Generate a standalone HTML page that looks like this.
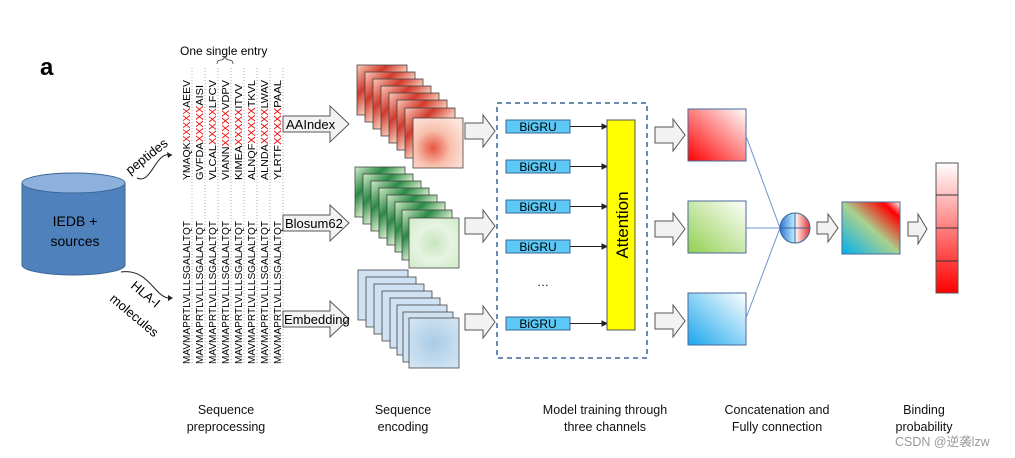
<!DOCTYPE html>
<html><head><meta charset="utf-8"><style>
html,body{margin:0;padding:0;background:#fff;}
svg{display:block;font-family:"Liberation Sans",Arial,sans-serif;}
</style></head><body>
<svg width="1015" height="458" viewBox="0 0 1015 458" xmlns="http://www.w3.org/2000/svg">
<defs>
<radialGradient id="hr" cx="0.4" cy="0.6" r="0.7"><stop offset="0" stop-color="#e8553e"/><stop offset="0.5" stop-color="#f8c0ae"/><stop offset="1" stop-color="#fde4da"/></radialGradient>
<radialGradient id="hg" cx="0.5" cy="0.5" r="0.7"><stop offset="0" stop-color="#c9e6c0"/><stop offset="0.5" stop-color="#e6f4e1"/><stop offset="1" stop-color="#d0ebc8"/></radialGradient>
<radialGradient id="hb" cx="0.5" cy="0.5" r="0.7"><stop offset="0" stop-color="#a9cbe6"/><stop offset="1" stop-color="#d6e7f4"/></radialGradient>
<linearGradient id="hrb" x1="0" y1="0" x2="1" y2="1"><stop offset="0" stop-color="#f9cbbb"/><stop offset="0.3" stop-color="#d23a2c"/><stop offset="0.55" stop-color="#f8c4b2"/><stop offset="1" stop-color="#fcdcd0"/></linearGradient>
<linearGradient id="hgb" x1="0" y1="0" x2="1" y2="1"><stop offset="0" stop-color="#d3ebcb"/><stop offset="0.3" stop-color="#2a8a45"/><stop offset="0.55" stop-color="#cfe9c6"/><stop offset="1" stop-color="#e3f2dd"/></linearGradient>
<linearGradient id="cr" x1="1" y1="0" x2="0" y2="1"><stop offset="0" stop-color="#fff"/><stop offset="1" stop-color="#f00"/></linearGradient>
<linearGradient id="cg" x1="1" y1="0" x2="0" y2="1"><stop offset="0" stop-color="#fff"/><stop offset="1" stop-color="#92d050"/></linearGradient>
<linearGradient id="cb" x1="1" y1="0" x2="0" y2="1"><stop offset="0" stop-color="#fff"/><stop offset="1" stop-color="#1aa7ec"/></linearGradient>
<linearGradient id="cm" x1="0" y1="1" x2="1" y2="0"><stop offset="0" stop-color="#00b0f0"/><stop offset="0.5" stop-color="#a9d18e"/><stop offset="0.85" stop-color="#f00"/><stop offset="1" stop-color="#fff"/></linearGradient>
<linearGradient id="bar" x1="0" y1="0" x2="0" y2="1"><stop offset="0" stop-color="#fff"/><stop offset="1" stop-color="#f00"/></linearGradient>
<linearGradient id="cl" x1="0" y1="0" x2="1" y2="0"><stop offset="0" stop-color="#2e75d6"/><stop offset="0.5" stop-color="#c6f0ff"/><stop offset="0.5" stop-color="#fff"/><stop offset="1" stop-color="#e53030"/></linearGradient>
<g id="arr"><path d="M0,-8 H18 V-16 L30,0 L18,16 V8 H0 Z" fill="#f2f2f2" stroke="#555" stroke-width="1"/></g>
</defs>

<text x="40" y="75" font-size="24" font-weight="bold">a</text>

<path d="M22,183 V265 A51.5,10 0 0 0 125,265 V183" fill="#4f81bd" stroke="#3a6595"/>
<ellipse cx="73.5" cy="183" rx="51.5" ry="10" fill="#8db0dc" stroke="#3a6595"/>
<text x="75" y="226" font-size="14" text-anchor="middle">IEDB +</text>
<text x="75" y="246" font-size="14" text-anchor="middle">sources</text>

<text transform="translate(130,175) rotate(-38)" font-size="13">peptides</text>
<path d="M137,178 C152,185 155,150 172,155" fill="none" stroke="#222"/>
<path d="M172,155 l-5,-3 l1,6z" fill="#222"/>
<path d="M121,272 C150,268 155,300 171,298" fill="none" stroke="#222"/>
<path d="M173,298 l-5,-3 l0,6z" fill="#222"/>
<text transform="translate(130,287) rotate(40)" font-size="13">HLA-I</text>
<text transform="translate(109,300) rotate(40)" font-size="13">molecules</text>

<text x="180" y="55" font-size="12">One single entry</text>
<path d="M217,64 q0,-4 4,-4 q3,0 4,-4 q1,4 4,4 q4,0 4,4" fill="none" stroke="#333" stroke-width="0.8"/>

<g font-size="10.5">
<g stroke="#999" stroke-width="0.8" stroke-dasharray="1,2">
<line x1="192" y1="68" x2="192" y2="365"/><line x1="205" y1="68" x2="205" y2="365"/><line x1="218" y1="68" x2="218" y2="365"/><line x1="231" y1="68" x2="231" y2="365"/><line x1="244" y1="68" x2="244" y2="365"/><line x1="257" y1="68" x2="257" y2="365"/><line x1="270" y1="68" x2="270" y2="365"/><line x1="283" y1="68" x2="283" y2="365"/>
</g>
<text transform="translate(190,180) rotate(-90)" textLength="100" lengthAdjust="spacingAndGlyphs">YMAQK<tspan fill="#e00">XXXXX</tspan>AEEV</text>
<text transform="translate(203,180) rotate(-90)" textLength="95" lengthAdjust="spacingAndGlyphs">GVFDA<tspan fill="#e00">XXXXX</tspan>AISI</text>
<text transform="translate(216,180) rotate(-90)" textLength="100" lengthAdjust="spacingAndGlyphs">VLCAL<tspan fill="#e00">XXXXX</tspan>LFCV</text>
<text transform="translate(229,180) rotate(-90)" textLength="100" lengthAdjust="spacingAndGlyphs">VIANN<tspan fill="#e00">XXXXX</tspan>VDPV</text>
<text transform="translate(242,180) rotate(-90)" textLength="96" lengthAdjust="spacingAndGlyphs">KIMEA<tspan fill="#e00">XXXXX</tspan>ITVV</text>
<text transform="translate(255,180) rotate(-90)" textLength="100" lengthAdjust="spacingAndGlyphs">ALNQF<tspan fill="#e00">XXXXX</tspan>TKVL</text>
<text transform="translate(268,180) rotate(-90)" textLength="100" lengthAdjust="spacingAndGlyphs">ALNDA<tspan fill="#e00">XXXXX</tspan>LWAV</text>
<text transform="translate(281,180) rotate(-90)" textLength="100" lengthAdjust="spacingAndGlyphs">YLRTF<tspan fill="#e00">XXXXX</tspan>PAAL</text>
<text transform="translate(190,364) rotate(-90)" textLength="143" lengthAdjust="spacingAndGlyphs">MAVMAPRTLVLLLSGALALTQT</text>
<text transform="translate(203,364) rotate(-90)" textLength="143" lengthAdjust="spacingAndGlyphs">MAVMAPRTLVLLLSGALALTQT</text>
<text transform="translate(216,364) rotate(-90)" textLength="143" lengthAdjust="spacingAndGlyphs">MAVMAPRTLVLLLSGALALTQT</text>
<text transform="translate(229,364) rotate(-90)" textLength="143" lengthAdjust="spacingAndGlyphs">MAVMAPRTLVLLLSGALALTQT</text>
<text transform="translate(242,364) rotate(-90)" textLength="143" lengthAdjust="spacingAndGlyphs">MAVMAPRTLVLLLSGALALTQT</text>
<text transform="translate(255,364) rotate(-90)" textLength="143" lengthAdjust="spacingAndGlyphs">MAVMAPRTLVLLLSGALALTQT</text>
<text transform="translate(268,364) rotate(-90)" textLength="143" lengthAdjust="spacingAndGlyphs">MAVMAPRTLVLLLSGALALTQT</text>
<text transform="translate(281,364) rotate(-90)" textLength="143" lengthAdjust="spacingAndGlyphs">MAVMAPRTLVLLLSGALALTQT</text>
</g>

<path d="M283,116 H330 V106 L349,124 L330,142 V132 H283 Z" fill="#f2f2f2" stroke="#555"/>
<text x="286" y="129" font-size="13">AAIndex</text>
<path d="M283,215 H330 V205 L349,223 L330,241 V231 H283 Z" fill="#f2f2f2" stroke="#555"/>
<text x="285" y="228" font-size="13">Blosum62</text>
<path d="M283,311 H330 V301 L349,319 L330,337 V327 H283 Z" fill="#f2f2f2" stroke="#555"/>
<text x="284" y="324" font-size="13">Embedding</text>

<g stroke="#444" stroke-width="0.8">
<rect x="357" y="65" width="50" height="50" fill="url(#hrb)"/><rect x="365" y="72" width="50" height="50" fill="url(#hrb)"/><rect x="373" y="79" width="50" height="50" fill="url(#hrb)"/><rect x="381" y="86" width="50" height="50" fill="url(#hrb)"/><rect x="389" y="93" width="50" height="50" fill="url(#hrb)"/><rect x="397" y="100" width="50" height="50" fill="url(#hrb)"/><rect x="405" y="108" width="50" height="50" fill="url(#hrb)"/><rect x="413" y="118" width="50" height="50" fill="url(#hr)"/>
<rect x="355" y="167" width="50" height="50" fill="url(#hgb)"/><rect x="363" y="174" width="50" height="50" fill="url(#hgb)"/><rect x="371" y="181" width="50" height="50" fill="url(#hgb)"/><rect x="379" y="188" width="50" height="50" fill="url(#hgb)"/><rect x="387" y="195" width="50" height="50" fill="url(#hgb)"/><rect x="395" y="202" width="50" height="50" fill="url(#hgb)"/><rect x="402" y="210" width="50" height="50" fill="url(#hgb)"/><rect x="409" y="218" width="50" height="50" fill="url(#hg)"/>
<rect x="358" y="270" width="50" height="50" fill="#cfe2f3"/><rect x="366" y="277" width="50" height="50" fill="#cfe2f3"/><rect x="374" y="284" width="50" height="50" fill="#cfe2f3"/><rect x="382" y="291" width="50" height="50" fill="#cfe2f3"/><rect x="390" y="298" width="50" height="50" fill="#cfe2f3"/><rect x="397" y="305" width="50" height="50" fill="#cfe2f3"/><rect x="403" y="312" width="50" height="50" fill="#cfe2f3"/><rect x="409" y="318" width="50" height="50" fill="url(#hb)"/>
</g>

<use href="#arr" transform="translate(465,131)"/>
<use href="#arr" transform="translate(465,226)"/>
<use href="#arr" transform="translate(465,322)"/>

<rect x="497" y="103" width="150" height="255" fill="none" stroke="#3a6595" stroke-width="1.5" stroke-dasharray="5,4"/>
<g font-size="12" text-anchor="middle">
<rect x="506" y="120" width="64" height="13" fill="#5bc8f5" stroke="#3a6595"/><text x="538" y="131">BiGRU</text>
<rect x="506" y="160" width="64" height="13" fill="#5bc8f5" stroke="#3a6595"/><text x="538" y="171">BiGRU</text>
<rect x="506" y="200" width="64" height="13" fill="#5bc8f5" stroke="#3a6595"/><text x="538" y="211">BiGRU</text>
<rect x="506" y="240" width="64" height="13" fill="#5bc8f5" stroke="#3a6595"/><text x="538" y="251">BiGRU</text>
<rect x="506" y="317" width="64" height="13" fill="#5bc8f5" stroke="#3a6595"/><text x="538" y="328">BiGRU</text>
</g>
<text x="543" y="286" font-size="12" text-anchor="middle">…</text>
<g stroke="#222" fill="#222">
<line x1="570" y1="126.5" x2="604" y2="126.5"/><path d="M607,126.5 l-5,-2.5 v5z"/>
<line x1="570" y1="166.5" x2="604" y2="166.5"/><path d="M607,166.5 l-5,-2.5 v5z"/>
<line x1="570" y1="206.5" x2="604" y2="206.5"/><path d="M607,206.5 l-5,-2.5 v5z"/>
<line x1="570" y1="246.5" x2="604" y2="246.5"/><path d="M607,246.5 l-5,-2.5 v5z"/>
<line x1="570" y1="323.5" x2="604" y2="323.5"/><path d="M607,323.5 l-5,-2.5 v5z"/>
</g>
<rect x="607" y="120" width="28" height="210" fill="#ffff00" stroke="#555"/>
<text transform="translate(628,225) rotate(-90)" font-size="17" text-anchor="middle">Attention</text>

<use href="#arr" transform="translate(655,135)"/>
<use href="#arr" transform="translate(655,229)"/>
<use href="#arr" transform="translate(655,321)"/>

<rect x="688" y="109" width="58" height="52" fill="url(#cr)" stroke="#4a6a9a"/>
<rect x="688" y="201" width="58" height="52" fill="url(#cg)" stroke="#4a6a9a"/>
<rect x="688" y="293" width="58" height="52" fill="url(#cb)" stroke="#4a6a9a"/>
<g stroke="#6d93d0" stroke-width="1">
<line x1="746" y1="136" x2="780" y2="228"/><line x1="746" y1="228" x2="780" y2="228"/><line x1="746" y1="318" x2="780" y2="228"/>
</g>
<circle cx="795" cy="228" r="15" fill="url(#cl)" stroke="#3a6595"/>
<line x1="780" y1="228" x2="810" y2="228" stroke="#3a6595"/><line x1="795" y1="213" x2="795" y2="243" stroke="#3a6595"/>

<path d="M817,222 H828 V214 L838,228 L828,242 V234 H817 Z" fill="#f2f2f2" stroke="#555"/>
<rect x="842" y="202" width="58" height="52" fill="url(#cm)" stroke="#4a6a9a"/>
<path d="M908,222 H918 V214 L927,229 L918,244 V236 H908 Z" fill="#f2f2f2" stroke="#555"/>

<rect x="936" y="163" width="22" height="130" fill="url(#bar)" stroke="#555"/>
<g stroke="#333"><line x1="936" y1="195" x2="958" y2="195"/><line x1="936" y1="228" x2="958" y2="228"/><line x1="936" y1="261" x2="958" y2="261"/></g>

<g font-size="12.5" text-anchor="middle" fill="#111">
<text x="226" y="414">Sequence</text><text x="226" y="431">preprocessing</text>
<text x="403" y="414">Sequence</text><text x="403" y="431">encoding</text>
<text x="605" y="414">Model training through</text><text x="605" y="431">three channels</text>
<text x="777" y="414">Concatenation and</text><text x="777" y="431">Fully connection</text>
<text x="924" y="414">Binding</text><text x="924" y="431">probability</text>
</g>
<text x="895" y="446" font-size="12.5" fill="#999" font-family="'Liberation Sans','Noto Sans CJK SC',sans-serif">CSDN @逆袭lzw</text>
</svg>
</body></html>
